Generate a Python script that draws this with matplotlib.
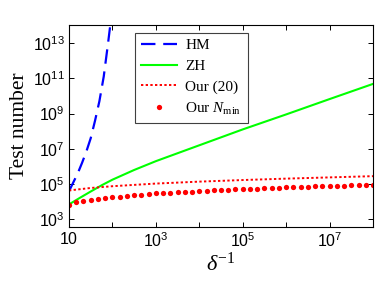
import numpy as np
import matplotlib
matplotlib.use("Agg")
import matplotlib.pyplot as plt
from matplotlib.ticker import FixedLocator, FixedFormatter, NullLocator

plt.rcParams['mathtext.fontset'] = 'custom'
plt.rcParams['mathtext.rm'] = 'Liberation Serif'
plt.rcParams['mathtext.it'] = 'Liberation Serif:italic'
plt.rcParams['mathtext.sf'] = 'Liberation Sans'

# data (log10 of delta^-1 and log10 of test number)
hm_logx = [1.0, 1.1, 1.2, 1.3, 1.4, 1.5, 1.6, 1.7, 1.8, 1.9, 2.0]
hm_logy = [4.6, 5.1, 5.6, 6.2, 6.85, 7.6, 8.6, 9.7, 11.1, 13.0, 15.0]

zh_logx = [1.0, 1.25, 1.5, 1.75, 2.0, 2.5, 3.0, 4.0, 5.0, 6.0, 7.0, 8.0]
zh_logy = [3.85, 4.22, 4.58, 4.93, 5.25, 5.8, 6.3, 7.2, 8.1, 8.95, 9.82, 10.68]

our20_logx = [1.0, 1.5, 2.0, 3.0, 4.0, 5.0, 6.0, 7.0, 8.0]
our20_logy = [4.64, 4.78, 4.88, 5.03, 5.14, 5.23, 5.31, 5.38, 5.45]

nmin_logx = [1 + k / 6 for k in range(43)]
nmin_logy = [3.79, 3.98, 4.06, 4.12, 4.17, 4.21, 4.25, 4.29, 4.33, 4.36, 4.40, 4.44,
             4.47, 4.50, 4.52, 4.54, 4.56, 4.58, 4.61, 4.63, 4.65, 4.66, 4.68, 4.70,
             4.72, 4.74, 4.75, 4.77, 4.78, 4.80, 4.81, 4.83, 4.84, 4.85, 4.87, 4.88,
             4.89, 4.91, 4.92, 4.93, 4.95, 4.96, 4.97]

xtick_vals = [1e1, 1e2, 1e3, 1e4, 1e5, 1e6, 1e7, 1e8]
xtick_labels = [r'$\mathsf{10}$', '', r'$\mathsf{10^{3}}$', '', r'$\mathsf{10^{5}}$', '',
                r'$\mathsf{10^{7}}$', '']
ytick_vals = [1e3, 1e5, 1e7, 1e9, 1e11, 1e13]
ytick_labels = [r'$\mathsf{10^{3}}$', r'$\mathsf{10^{5}}$', r'$\mathsf{10^{7}}$',
                r'$\mathsf{10^{9}}$', r'$\mathsf{10^{11}}$', r'$\mathsf{10^{13}}$']

p = lambda a: np.power(10.0, np.asarray(a))

fig = plt.figure(figsize=(3.76, 2.84), dpi=100)
ax = fig.add_axes([0.1835, 0.1996, 0.8085, 0.7124])

ax.plot(p(hm_logx), p(hm_logy), color='#0000ff', lw=1.6, ls=(0, (6.5, 3.5)), label='HM')
ax.plot(p(zh_logx), p(zh_logy), color='#00ff00', lw=1.5, label='ZH')
ax.plot(p(our20_logx), p(our20_logy), color='#ff0000', lw=1.4, ls=(0, (1.2, 1.2)),
        label='Our (20)')
ax.plot(p(nmin_logx), p(nmin_logy), ls='none', marker='o', ms=3.8, color='#ff0000',
        mec='none', label=r'Our $N_{\min}$')

ax.set_xscale('log')
ax.set_yscale('log')
ax.set_xlim(1e1, 1e8)
ax.set_ylim(10 ** 2.55, 10 ** 14.02)

ax.xaxis.set_major_locator(FixedLocator(xtick_vals))
ax.xaxis.set_major_formatter(FixedFormatter(xtick_labels))
ax.xaxis.set_minor_locator(NullLocator())
ax.yaxis.set_major_locator(FixedLocator(ytick_vals))
ax.yaxis.set_major_formatter(FixedFormatter(ytick_labels))
ax.yaxis.set_minor_locator(NullLocator())
ax.tick_params(direction='in', top=True, right=True, length=3.5, width=0.7,
               labelsize=11.5, pad=3)
for s in ax.spines.values():
    s.set_linewidth(0.8)

ax.set_ylabel('Test number', family='Liberation Serif', fontsize=15.5, labelpad=3)
ax.set_xlabel(r'$\delta^{-1}$', fontsize=16, labelpad=1)

leg = ax.legend(loc='upper left', bbox_to_anchor=(0.217, 0.962), borderaxespad=0,
                prop={'family': 'Liberation Serif', 'size': 11}, fancybox=False,
                edgecolor='#404040', framealpha=1, numpoints=1, handlelength=2.35,
                labelspacing=0.45, handletextpad=0.55, borderpad=0.4)
leg.get_frame().set_linewidth(0.8)

fig.savefig('out.png', dpi=100)
